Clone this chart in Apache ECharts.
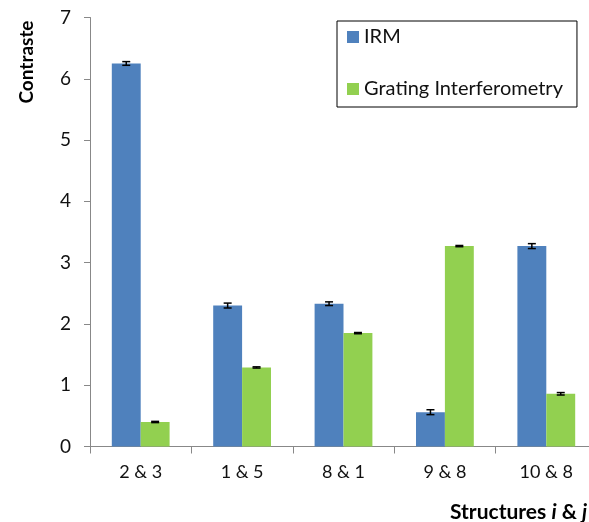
<!DOCTYPE html>
<html><head><meta charset="utf-8">
<script src="https://cdn.jsdelivr.net/npm/echarts@6/dist/echarts.min.js"></script>
<style>html,body{margin:0;padding:0;background:#fff;overflow:hidden}#c{width:597px;height:522px}</style>
</head><body><div id="c"></div>
<script>
const categories = ['2 & 3', '1 & 5', '8 & 1', '9 & 8', '10 & 8'];
const irmValues = [6.25, 2.30, 2.33, 0.56, 3.27];
const irmErrors = [0.03, 0.04, 0.03, 0.04, 0.04];
const gratingValues = [0.40, 1.29, 1.85, 3.27, 0.86];
const gratingErrors = [0.01, 0.01, 0.01, 0.01, 0.02];
const yTicks = [0, 1, 2, 3, 4, 5, 6, 7];

const CAT_GAP = 0.43;
const font = 'Lato, Open Sans, sans-serif';

function errSeries(vals, errs, side) {
  return {
    type: 'custom',
    z: 10,
    data: vals.map((v, i) => [i, v - errs[i], v + errs[i]]),
    renderItem: function (params, api) {
      const band = api.size([1, 0])[0];
      const bw = band * (1 - CAT_GAP) / 2;
      const c = api.coord([api.value(0), 0]);
      const x = c[0] + side * bw / 2;
      const lo = api.coord([api.value(0), api.value(1)])[1];
      const hi = api.coord([api.value(0), api.value(2)])[1];
      const cap = 4;
      const st = { stroke: '#000', lineWidth: 1.5 };
      return { type: 'group', children: [
        { type: 'line', shape: { x1: x, y1: lo, x2: x, y2: hi }, style: st },
        { type: 'line', shape: { x1: x - cap, y1: lo, x2: x + cap, y2: lo }, style: st },
        { type: 'line', shape: { x1: x - cap, y1: hi, x2: x + cap, y2: hi }, style: st }
      ]};
    }
  };
}

const chart = echarts.init(document.getElementById('c'), null, { renderer: 'canvas' });
chart.setOption({
  animation: false,
  backgroundColor: '#fff',
  grid: { left: 90, right: 0, top: 17.5, bottom: 75.5, containLabel: false },
  legend: {
    orient: 'vertical',
    left: 337, top: 21,
    width: 238,
    padding: [6, 14, 8, 10],
    itemGap: 32,
    itemWidth: 12, itemHeight: 12,
    borderColor: '#000', borderWidth: 1,
    backgroundColor: '#fff',
    textStyle: { fontFamily: font, fontSize: 20, color: '#111', padding: [0, 0, 0, 0] },
    data: [{ name: 'IRM', icon: 'rect' }, { name: 'Grating Interferometry', icon: 'rect' }]
  },
  xAxis: {
    type: 'category',
    data: categories,
    axisLine: { lineStyle: { color: '#888', width: 1 } },
    axisTick: { show: true, length: 7, lineStyle: { color: '#888' } },
    axisLabel: { fontFamily: font, fontSize: 18, color: '#111', margin: 17 }
  },
  yAxis: {
    type: 'value',
    min: yTicks[0], max: yTicks[yTicks.length - 1], interval: 1,
    splitLine: { show: false },
    axisLine: { show: true, lineStyle: { color: '#888', width: 1 } },
    axisTick: { show: true, length: 6, lineStyle: { color: '#888' } },
    axisLabel: { fontFamily: font, fontSize: 19, color: '#111', margin: 19 }
  },
  series: [
    { name: 'IRM', type: 'bar', data: irmValues, barGap: '0%', barCategoryGap: (CAT_GAP * 100) + '%',
      itemStyle: { color: '#4F81BD' } },
    { name: 'Grating Interferometry', type: 'bar', data: gratingValues, barGap: '0%', barCategoryGap: (CAT_GAP * 100) + '%',
      itemStyle: { color: '#92D050' } },
    errSeries(irmValues, irmErrors, -1),
    errSeries(gratingValues, gratingErrors, 1)
  ],
  graphic: [
    { type: 'text', x: 27, y: 62, rotation: Math.PI / 2,
      style: { text: 'Contraste', fontFamily: font, fontSize: 19, fontWeight: 'bold', fill: '#000',
        align: 'center', verticalAlign: 'middle' } },
    { type: 'text', left: 450, top: 502,
      style: { text: '{a|Structures }{b|i}{a| & }{b|j}', fill: '#000',
        rich: { a: { fontFamily: font, fontSize: 21, fontWeight: 'bold', fill: '#000' },
                b: { fontFamily: font, fontSize: 21, fontWeight: 'bold', fontStyle: 'italic', fill: '#000' } } } }
  ]
});
</script></body></html>
